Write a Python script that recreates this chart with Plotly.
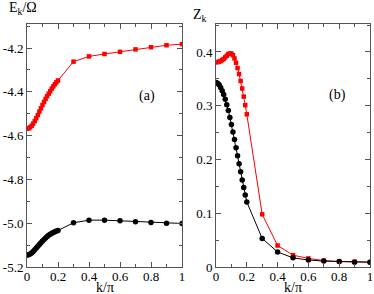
import plotly.graph_objects as go

k_dense = [round(0.01 * i, 2) for i in range(21)]
k_coarse = [0.3, 0.4, 0.5, 0.6, 0.7, 0.8, 0.9, 1.0]
k = k_dense + k_coarse

E_red = [-4.568, -4.567, -4.562, -4.555, -4.545, -4.533, -4.520, -4.506, -4.490, -4.475,
         -4.460, -4.446, -4.432, -4.420, -4.408, -4.397, -4.385, -4.375, -4.365, -4.356,
         -4.348,
         -4.262, -4.238, -4.227, -4.217, -4.206, -4.196, -4.187, -4.182]
E_black = [-5.145, -5.144, -5.141, -5.136, -5.129, -5.121, -5.113, -5.105, -5.097, -5.089,
           -5.081, -5.074, -5.067, -5.061, -5.055, -5.050, -5.046, -5.042, -5.039, -5.036,
           -5.033,
           -4.998, -4.986, -4.986, -4.989, -4.993, -4.997, -5.000, -5.001]
Z_red = [0.381, 0.381, 0.382, 0.383, 0.385, 0.387, 0.390, 0.393, 0.396, 0.397,
         0.397, 0.394, 0.388, 0.380, 0.370, 0.359, 0.346, 0.332, 0.317, 0.301,
         0.284,
         0.098, 0.040, 0.022, 0.016, 0.012, 0.010, 0.010, 0.009]
Z_black = [0.343, 0.342, 0.339, 0.334, 0.328, 0.321, 0.312, 0.302, 0.291, 0.278,
           0.265, 0.251, 0.237, 0.222, 0.207, 0.192, 0.177, 0.162, 0.148, 0.134,
           0.121,
           0.053, 0.028, 0.017, 0.013, 0.011, 0.010, 0.009, 0.009]

x_tickvals = [0, 0.2, 0.4, 0.6, 0.8, 1.0]
x_ticktext = ["0", "0.2", "0.4", "0.6", "0.8", "1"]
ya_tickvals = [-5.2, -5.0, -4.8, -4.6, -4.4, -4.2]
ya_ticktext = ["-5.2", "-5.0", "-4.8", "-4.6", "-4.4", "-4.2"]
yb_tickvals = [0, 0.1, 0.2, 0.3, 0.4]
yb_ticktext = ["0", "0.1", "0.2", "0.3", "0.4"]

RED = "#ff0000"
BLK = "#000000"
FONT = "Liberation Serif"
FRAME = "#555555"

fig = go.Figure()
fig.add_trace(go.Scatter(x=k, y=E_red, mode="lines+markers", xaxis="x", yaxis="y",
                         line=dict(color=RED, width=1),
                         marker=dict(symbol="square", size=4.5, color=RED)))
fig.add_trace(go.Scatter(x=k, y=E_black, mode="lines+markers", xaxis="x", yaxis="y",
                         line=dict(color=BLK, width=1),
                         marker=dict(symbol="circle", size=5.5, color=BLK)))
fig.add_trace(go.Scatter(x=k, y=Z_red, mode="lines+markers", xaxis="x2", yaxis="y2",
                         line=dict(color=RED, width=1),
                         marker=dict(symbol="square", size=4.5, color=RED)))
fig.add_trace(go.Scatter(x=k, y=Z_black, mode="lines+markers", xaxis="x2", yaxis="y2",
                         line=dict(color=BLK, width=1),
                         marker=dict(symbol="circle", size=5.5, color=BLK)))

W, H = 374, 294
T, B = 24, 27
PH = H - T - B


def py(y):
    # pixel y from top -> paper coordinate (relative to plot area)
    return (H - B - y) / PH


common = dict(showline=True, linecolor=FRAME, linewidth=1, mirror="ticks",
              ticks="inside", ticklen=5, tickwidth=1, tickcolor=FRAME,
              showgrid=False, zeroline=False, automargin=False,
              tickfont=dict(family=FONT, size=13, color="black"))

txt = dict(family=FONT, size=14, color="black")

fig.update_layout(
    width=W, height=H,
    margin=dict(l=0, r=0, t=T, b=B, autoexpand=False),
    paper_bgcolor="white", plot_bgcolor="white",
    showlegend=False,
    xaxis=dict(domain=[27 / W, 182 / W], range=[0, 1], tickvals=x_tickvals, ticktext=x_ticktext,
               minor=dict(dtick=0.1, ticks="inside", ticklen=3, tickcolor=FRAME),
               anchor="y", ticklabelstandoff=-3, **common),
    yaxis=dict(domain=[0, 1], range=[-5.2, -4.09], tickvals=ya_tickvals, ticktext=ya_ticktext,
               minor=dict(tickvals=[-5.1, -4.9, -4.7, -4.5, -4.3, -4.1], ticks="inside", ticklen=3, tickcolor=FRAME),
               anchor="x", **common),
    xaxis2=dict(domain=[216 / W, 370 / W], range=[0, 1], tickvals=x_tickvals, ticktext=x_ticktext,
                minor=dict(dtick=0.1, ticks="inside", ticklen=3, tickcolor=FRAME),
                anchor="y2", ticklabelstandoff=-3, **common),
    yaxis2=dict(domain=[0, 1], range=[0, 0.452], tickvals=yb_tickvals, ticktext=yb_ticktext,
                minor=dict(tickvals=[0.05, 0.15, 0.25, 0.35, 0.45], ticks="inside", ticklen=3, tickcolor=FRAME),
                anchor="x2", **common),
    annotations=[
        dict(text="E<sub>k</sub>/Ω", x=7 / W, y=py(9), xref="paper", yref="paper",
             xanchor="left", yanchor="middle", showarrow=False, font=txt),
        dict(text="Z<sub>k</sub>", x=191 / W, y=py(15), xref="paper", yref="paper",
             xanchor="left", yanchor="middle", showarrow=False, font=txt),
        dict(text="k/π", x=(27 + 182) / 2 / W, y=py(287), xref="paper", yref="paper",
             xanchor="center", yanchor="middle", showarrow=False, font=txt),
        dict(text="k/π", x=(216 + 370) / 2 / W, y=py(287), xref="paper", yref="paper",
             xanchor="center", yanchor="middle", showarrow=False, font=txt),
        dict(text="(a)", x=147 / W, y=py(96), xref="paper", yref="paper",
             xanchor="center", yanchor="middle", showarrow=False, font=txt),
        dict(text="(b)", x=337 / W, y=py(95), xref="paper", yref="paper",
             xanchor="center", yanchor="middle", showarrow=False, font=txt),
    ],
)

fig.write_html("out.html",
               config={"displayModeBar": False},
               post_script="document.body.style.margin='0';document.body.style.padding='0';"
                           "document.body.style.overflow='hidden';")
